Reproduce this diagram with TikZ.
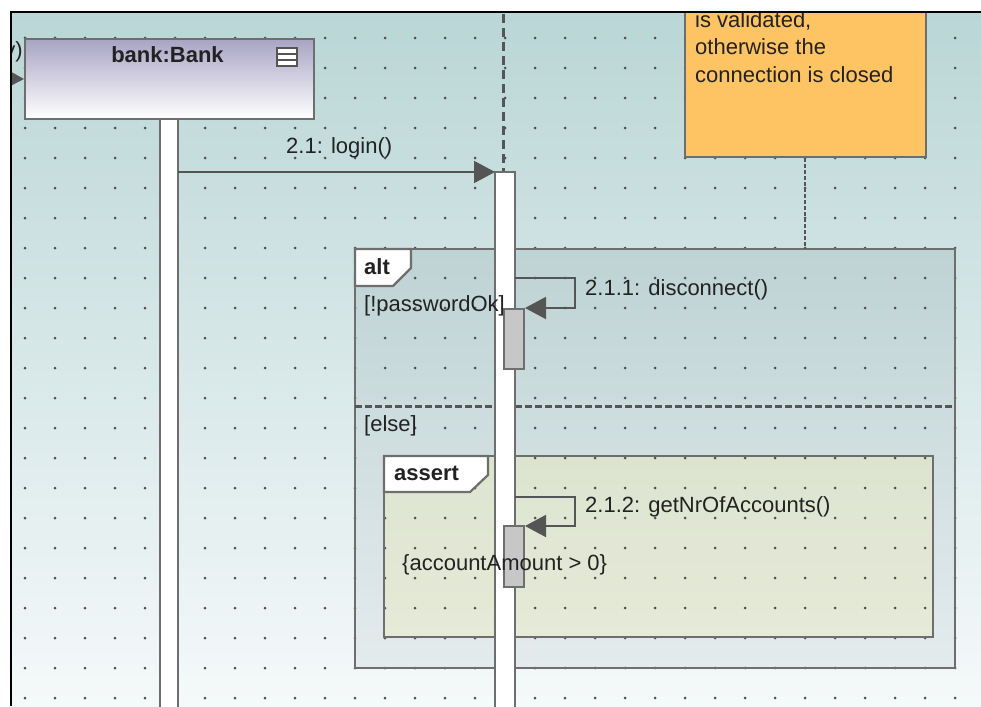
\documentclass[tikz,border=0pt]{standalone}
\usepackage{fontspec}
\setmainfont{Liberation Sans}
\usetikzlibrary{arrows.meta,calc}

\definecolor{bgtop}{RGB}{186,214,214}
\definecolor{bgbot}{RGB}{245,249,250}
\definecolor{alttop}{RGB}{190,211,212}
\definecolor{altbot}{RGB}{228,235,237}
\definecolor{asserttop}{RGB}{220,228,208}
\definecolor{assertbot}{RGB}{230,234,216}
\definecolor{framec}{RGB}{110,110,110}
\definecolor{msgc}{RGB}{85,85,85}
\definecolor{notec}{RGB}{254,196,100}
\definecolor{objtop}{RGB}{168,164,196}
\definecolor{dotc}{RGB}{80,80,80}
\definecolor{txtc}{RGB}{34,34,34}

\tikzset{
  txt/.style={font=\fontsize{22}{27.5}\selectfont, text=txtc, inner sep=0pt},
  frame/.style={draw=framec, line width=2.2pt},
  lifebar/.style={fill=white, draw=framec, line width=2pt},
  execbar/.style={fill=black!22, draw=framec, line width=1.8pt},
  msg/.style={draw=msgc, line width=2pt, -{Triangle[length=21pt,width=22pt]}},
  notelink/.style={draw=msgc, line width=1.6pt, dash pattern=on 4pt off 2pt}
}

\begin{document}
\begin{tikzpicture}[x=1pt,y=-1pt]
  \useasboundingbox (0,0) rectangle (981,706);
  \fill[white] (0,0) rectangle (981,706);
  \begin{scope}
    \clip (11,12) rectangle (981,706);
    % 背景
    \shade[top color=bgtop, bottom color=bgbot] (11,12) rectangle (981,706);
    % 组合片段的底色
    \shade[top color=alttop, bottom color=altbot] (355,249) rectangle (955,668);
    \shade[top color=asserttop, bottom color=assertbot] (384,456) rectangle (933,637);
    % 点阵
    \foreach \x in {25,55,...,955}
      \foreach \y in {38,68,...,698}
        \fill[dotc] (\x,\y) circle (1.5pt);
    % alt 片段
    \draw[frame] (355,249) rectangle (955,668);
    \draw[frame, fill=white] (355,249) -- (411,249) -- (411,268) -- (393,286) -- (355,286) -- cycle;
    \draw[draw=msgc, line width=3pt, dash pattern=on 7pt off 3pt] (355,406) -- (955,406);
    % assert 片段
    \draw[frame] (384,456) rectangle (933,637);
    \draw[frame, fill=white] (384,456) -- (488,456) -- (488,475) -- (470,492) -- (384,492) -- cycle;

    % 生命线
    \draw[lifebar] (160,118) rectangle (178,720);
    \draw[draw=msgc, line width=3pt, dash pattern=on 9pt off 5pt] (503,0) -- (503,172);
    \draw[lifebar] (495,172) rectangle (515,720);
    \draw[execbar] (504,309) rectangle (524,369);
    \draw[execbar] (504,526) rectangle (524,587);

    % 对象 bank:Bank
    \node[draw=framec, line width=2pt, top color=objtop, bottom color=white,
          minimum width=289pt, minimum height=80pt, anchor=north west] (bank) at (24,38) {};
    \node[txt, font=\fontsize{22}{27.5}\selectfont\bfseries, anchor=base] (banktitle) at (167.5,63) {bank:Bank};
    \draw[draw=msgc, line width=1.6pt, fill=white] (277,48) rectangle (297,66);
    \draw[draw=msgc, line width=1.6pt] (277,54) -- (297,54) (277,60) -- (297,60);

    % 注释
    \node[draw=framec, line width=2pt, fill=notec, minimum width=241pt, minimum height=200pt,
          anchor=south west] (note) at (684,158) {};
    \node[txt, anchor=north west, align=left] (notetext) at (695,11)
      {is validated,\\otherwise the\\connection is closed};
    \coordinate (notefoot) at (805,158);
    \coordinate (althead) at (805,249);
    \draw[notelink] (notefoot) -- (althead);

    % 消息
    \coordinate (incoming) at (-40,78);
    \draw[msg] (incoming) -- (bank.west);
    \node[txt, anchor=base east] (inlabel) at (23,58) {y)};

    \coordinate (login-from) at (178,172);
    \coordinate (login-to) at (495,172);
    \draw[msg] (login-from) -- (login-to);
    \node[txt, anchor=base west] (loginlabel) at (286,153) {2.1: login()};

    \coordinate (disc-from) at (515,278);
    \coordinate (disc-to) at (525,308);
    \draw[msg] (disc-from) -- ++(60,0) |- (disc-to);
    \node[txt, anchor=base west] (disclabel) at (585,295) {2.1.1: disconnect()};

    \coordinate (acc-from) at (515,497);
    \coordinate (acc-to) at (525,526);
    \draw[msg] (acc-from) -- ++(60,0) |- (acc-to);
    \node[txt, anchor=base west] (acclabel) at (585,512) {2.1.2: getNrOfAccounts()};

    % 片段文字
    \node[txt, font=\fontsize{22}{27.5}\selectfont\bfseries, anchor=base west] (altname) at (364,274) {alt};
    \node[txt, anchor=base west] (guard1) at (364,311) {[!passwordOk]};
    \node[txt, anchor=base west] (guard2) at (364,431) {[else]};
    \node[txt, font=\fontsize{22}{27.5}\selectfont\bfseries, anchor=base west] (assertname) at (394,480) {assert};
    \node[txt, anchor=base west] (constraint) at (402,570) {\{accountAmount > 0\}};
  \end{scope}
  \draw[black, line width=2pt] (11,706) -- (11,12) -- (981,12);
\end{tikzpicture}
\end{document}
